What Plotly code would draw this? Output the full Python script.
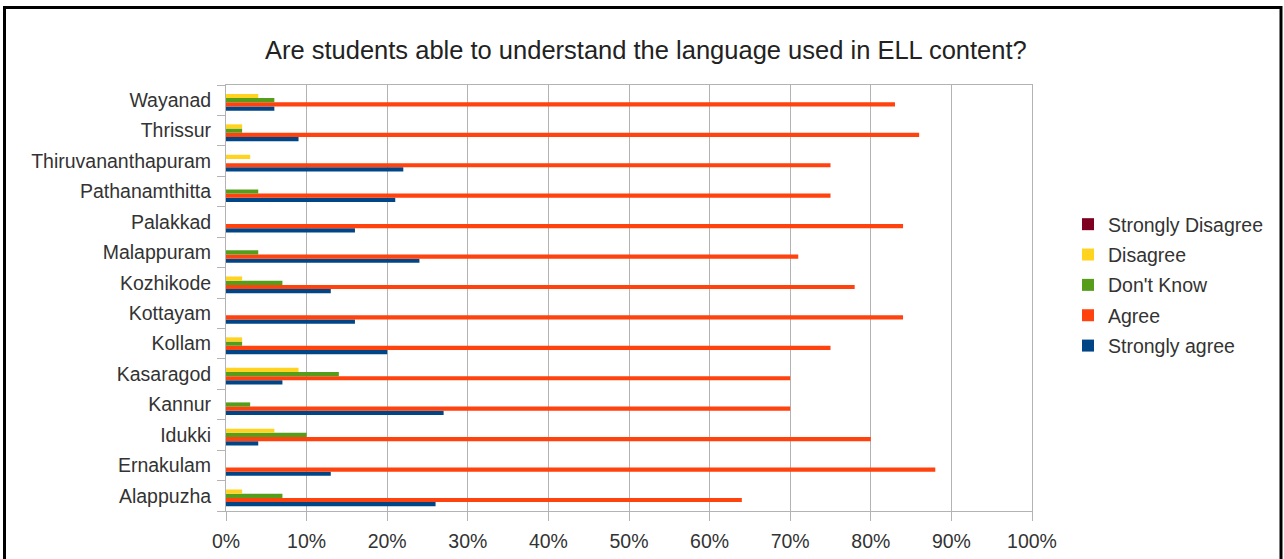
import plotly.graph_objects as go

districts = ["Alappuzha", "Ernakulam", "Idukki", "Kannur", "Kasaragod", "Kollam",
             "Kottayam", "Kozhikode", "Malappuram", "Palakkad", "Pathanamthitta",
             "Thiruvananthapuram", "Thrissur", "Wayanad"]

strongly_agree    = [26, 13, 4, 27, 7, 20, 16, 13, 24, 16, 21, 22, 9, 6]
agree             = [64, 88, 80, 70, 70, 75, 84, 78, 71, 84, 75, 75, 86, 83]
dont_know         = [7, 0, 10, 3, 14, 2, 0, 7, 4, 0, 4, 0, 2, 6]
disagree          = [2, 0, 6, 0, 9, 2, 0, 2, 0, 0, 0, 3, 2, 4]
strongly_disagree = [0, 0, 0, 0, 0, 0, 0, 0, 0, 0, 0, 0, 0, 0]

series_names = ["Strongly agree", "Agree", "Don't Know", "Disagree", "Strongly Disagree"]
series_values = [strongly_agree, agree, dont_know, disagree, strongly_disagree]
series_colors = ["#004586", "#ff420e", "#579d1c", "#ffd320", "#7e0021"]

x_ticks = list(range(0, 101, 10))
x_tick_labels = [f"{v}%" for v in x_ticks]

fig = go.Figure()
n = len(series_names)
for i, (name, vals, col) in enumerate(zip(series_names, series_values, series_colors)):
    fig.add_trace(go.Bar(
        y=districts, x=vals, name=name, orientation="h",
        marker=dict(color=col, line=dict(width=0)),
        legendgroup=name, legendrank=n - i,
    ))

L, R, T, B = 226, 252, 85, 48
W, H = 1284, 559
pw, ph = W - L - R, H - T - B

FONT = "Liberation Sans, Arial, sans-serif"

fig.update_layout(
    width=W, height=H,
    margin=dict(l=L, r=R, t=T, b=B, pad=0, autoexpand=False),
    paper_bgcolor="white", plot_bgcolor="white",
    barmode="group", bargap=0.31, bargroupgap=0,
    font=dict(family=FONT, size=19.5, color="#333333"),
    title=dict(text="Are students able to understand the language used in ELL content?",
               x=0.503, xanchor="center", y=1 - 50 / H, yanchor="middle",
               font=dict(size=25.5, color="#222222")),
    legend=dict(x=(1068 - L) / pw, xanchor="left", y=(T + ph - 205) / ph, yanchor="top",
                traceorder="grouped", tracegroupgap=2,
                font=dict(size=19.5, color="#333333"), bgcolor="rgba(0,0,0,0)"),
    showlegend=True,
)

fig.update_xaxes(range=[0, 100], tickmode="array", tickvals=x_ticks, ticktext=x_tick_labels,
                 showgrid=True, gridcolor="#b3b3b3", gridwidth=1,
                 showline=True, linecolor="#b3b3b3", linewidth=1, mirror=True,
                 ticks="outside", ticklen=9, tickcolor="#b3b3b3", ticklabelstandoff=4,
                 zeroline=False, fixedrange=True, automargin=False)
fig.update_yaxes(categoryorder="array", categoryarray=districts,
                 showgrid=False, showline=True, linecolor="#b3b3b3", linewidth=1, mirror=True,
                 ticks="outside", ticklen=8, tickcolor="#b3b3b3", tickson="boundaries",
                 ticklabelstandoff=10, fixedrange=True, automargin=False)

# outer black frame around the chart
fig.add_shape(type="rect", xref="paper", yref="paper",
              x0=(4.5 - L) / pw, x1=(1281 - L) / pw,
              y0=(T + ph - 566) / ph, y1=(T + ph - 7.5) / ph,
              line=dict(color="black", width=3), fillcolor="rgba(0,0,0,0)", layer="above")

fig.write_html("out.html", config={"displayModeBar": False},
               post_script="document.body.style.margin='0px';document.body.style.overflow='hidden';")
